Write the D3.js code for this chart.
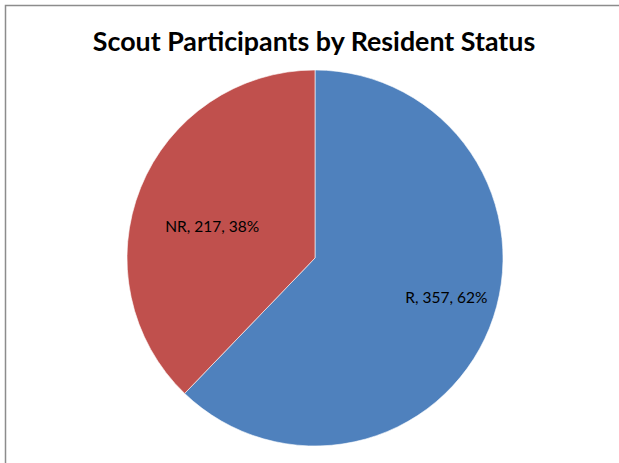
<!DOCTYPE html>
<html><head><meta charset="utf-8">
<script src="https://cdn.jsdelivr.net/npm/d3@7"></script>
<style>body{margin:0;background:#fff}svg{display:block}</style>
</head><body>
<script>
const categories = ["R", "NR"];
const values = [357, 217];
const percents = ["62%", "38%"];
const colors = ["#4F81BD", "#C0504D"];
const title = "Scout Participants by Resident Status";

const W = 619, H = 463;
const svg = d3.select("body").append("svg").attr("width", W).attr("height", H);
svg.append("rect").attr("width", W).attr("height", H).attr("fill", "#fff");
svg.append("path").attr("d", `M5.5,${H} L5.5,5.5 L${W},5.5`).attr("fill", "none").attr("stroke", "#8c8c8c").attr("stroke-width", 1.5);

svg.append("text").attr("x", 314).attr("y", 51).attr("text-anchor", "middle")
  .attr("font-family", "Lato, 'Open Sans', sans-serif").attr("font-weight", "bold")
  .attr("font-size", 26.8).attr("fill", "#000").text(title);

// layout: label placement (Excel best-fit approximation)
const labelRadiusFactors = [0.73, 0.572];
const labelAngleShift = -5 * Math.PI / 180;

const cx = 315, cy = 258, r = 188;
const data = categories.map((c, i) => ({cat: c, value: values[i], pct: percents[i], color: colors[i], lf: labelRadiusFactors[i]}));
const pie = d3.pie().sort(null).value(d => d.value);
const arc = d3.arc().innerRadius(0).outerRadius(r);
const g = svg.append("g").attr("transform", `translate(${cx},${cy})`);
const arcs = pie(data);
g.selectAll("path").data(arcs).join("path").attr("d", arc)
  .attr("fill", d => d.data.color).attr("stroke", "#fff").attr("stroke-width", 0.6);

g.selectAll("text").data(arcs).join("text")
  .attr("transform", d => {
    const a = (d.startAngle + d.endAngle) / 2 + labelAngleShift;
    const dist = r * d.data.lf;
    return `translate(${dist * Math.sin(a)},${-dist * Math.cos(a)})`; })
  .attr("text-anchor", "middle").attr("dy", "0.35em")
  .attr("font-family", "Lato, 'Open Sans', sans-serif").attr("font-size", 15.5).attr("fill", "#000")
  .text(d => `${d.data.cat}, ${d.data.value}, ${d.data.pct}`);
</script>
</body></html>
